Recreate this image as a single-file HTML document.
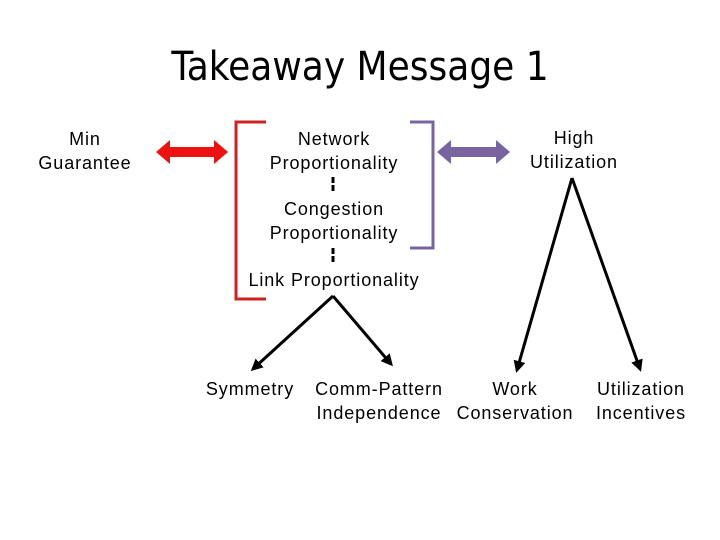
<!DOCTYPE html>
<html><head><style>
body{margin:0;width:720px;height:540px;background:#fff;position:relative;overflow:hidden;font-family:"Liberation Sans",sans-serif;}
.t{position:absolute;font-size:18px;letter-spacing:0.9px;color:#000;text-align:center;line-height:24px;white-space:nowrap;}
</style></head><body>
<div class="t" style="left:0;width:720px;top:42px;font-size:40px;letter-spacing:0;line-height:50px;font-family:'DejaVu Sans Condensed','Liberation Sans Narrow','Liberation Sans',sans-serif;">Takeaway Message 1</div>
<div class="t" style="left:30px;width:110px;top:127px;">Min<br>Guarantee</div>
<div class="t" style="left:244px;width:180px;top:127px;">Network<br>Proportionality</div>
<div class="t" style="left:244px;width:180px;top:197px;">Congestion<br>Proportionality</div>
<div class="t" style="left:224px;width:220px;top:268px;">Link Proportionality</div>
<div class="t" style="left:504px;width:140px;top:126px;">High<br>Utilization</div>
<div class="t" style="left:195px;width:110px;top:377px;">Symmetry</div>
<div class="t" style="left:304px;width:150px;top:377px;">Comm-Pattern<br>Independence</div>
<div class="t" style="left:445px;width:140px;top:377px;">Work<br>Conservation</div>
<div class="t" style="left:581px;width:120px;top:377px;">Utilization<br>Incentives</div>
<svg width="720" height="540" style="position:absolute;left:0;top:0">
<defs><marker id="a" markerWidth="12" markerHeight="12" refX="9" refY="6" orient="auto" markerUnits="userSpaceOnUse"><path d="M0,0L12,6L0,12z" fill="#000"/></marker></defs>
<polyline points="266,122 236,122 236,299 266,299" fill="none" stroke="#d02020" stroke-width="3"/>
<polyline points="410,122 433,122 433,248 410,248" fill="none" stroke="#7a64a0" stroke-width="3"/>
<path d="M156,152 L170,140 L170,147 L214,147 L214,140 L228,152 L214,164 L214,157 L170,157 L170,164Z" fill="#ee1111"/>
<path d="M437,152 L451,140 L451,147 L496,147 L496,140 L510,152 L496,164 L496,157 L451,157 L451,164Z" fill="#7a64a0"/>
<line x1="333" y1="177" x2="333" y2="191" stroke="#000" stroke-width="3" stroke-dasharray="6,2"/>
<line x1="333" y1="248" x2="333" y2="262" stroke="#000" stroke-width="3" stroke-dasharray="6,2"/>
<g stroke="#000" stroke-width="3" fill="none">
<line x1="333" y1="296" x2="253" y2="369" marker-end="url(#a)"/>
<line x1="333" y1="296" x2="391" y2="364" marker-end="url(#a)"/>
<line x1="572" y1="178" x2="517" y2="370" marker-end="url(#a)"/>
<line x1="572" y1="178" x2="640" y2="369" marker-end="url(#a)"/>
</g>
</svg>
</body></html>
